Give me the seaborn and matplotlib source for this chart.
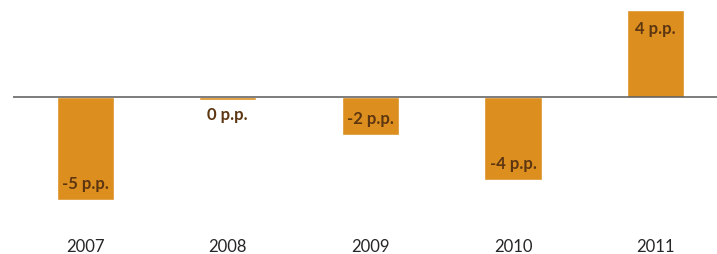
import pandas as pd
import seaborn as sns
import matplotlib.pyplot as plt

years = ["2007", "2008", "2009", "2010", "2011"]
change_pp = [-5.0, -0.18, -1.85, -4.04, 4.2]
labels = ["-5 p.p.", "0 p.p.", "-2 p.p.", "-4 p.p.", "4 p.p."]


def main():
    df = pd.DataFrame({"year": years, "change": change_pp})

    sns.set_style("white")
    plt.rcParams['font.family'] = ['Lato', 'DejaVu Sans']

    fig = plt.figure(figsize=(7.17, 2.54), dpi=100)
    # axes in pixel terms: left 13, right 717, top 0, bottom 222
    ax = fig.add_axes([13 / 717, 1 - 222 / 254, 1 - 13 / 717, 222 / 254])

    sns.barplot(data=df, x="year", y="change", color="#DC8E1F",
                saturation=1, width=0.4, ax=ax)

    ax.set_xlim(-0.505, 4.43)
    ax.set_ylim(-(222 - 96.5) / 20.6, 96.5 / 20.6)
    ax.axhline(0, color="#595959", lw=1.1, zorder=3)

    for i, (v, lab) in enumerate(zip(change_pp, labels)):
        if v > 0:
            off = -14
        elif v < -0.5:
            off = 11.5
        else:
            off = -11
        ax.annotate(lab, (i, v), xytext=(0, off), textcoords="offset points",
                    ha="center", va="center", fontsize=12, fontweight="bold",
                    color="#5C3511")

    sns.despine(ax=ax, left=True, bottom=True)
    ax.set_yticks([])
    ax.set_xlabel("")
    ax.set_ylabel("")
    ax.tick_params(axis="x", length=0, pad=12, labelsize=12, labelcolor="#262626")

    fig.savefig("out.png", dpi=100)
    plt.close(fig)


if __name__ == '__main__':
    main()
